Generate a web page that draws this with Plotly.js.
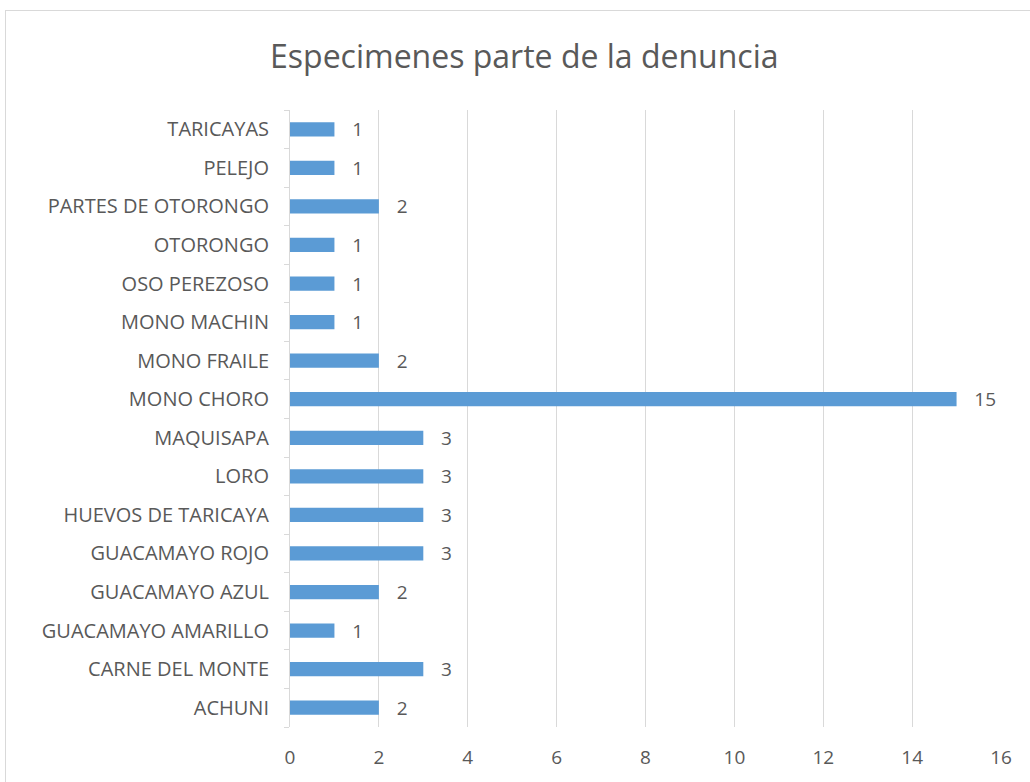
<!DOCTYPE html>
<html>
<head>
<meta charset="utf-8">
<script src="https://cdn.plot.ly/plotly-3.0.1.min.js"></script>
<style>
html,body{margin:0;padding:0;background:#fff;}
#wrap{position:relative;width:1030px;height:782px;overflow:hidden;}
#chart{width:1030px;height:782px;}
#frame{position:absolute;left:5px;top:10px;width:1100px;height:900px;border:1px solid #d9d9d9;pointer-events:none;}
</style>
</head>
<body>
<div id="wrap"><div id="chart"></div><div id="frame"></div></div>
<script>
const categories = ["ACHUNI","CARNE DEL MONTE","GUACAMAYO AMARILLO","GUACAMAYO AZUL","GUACAMAYO ROJO","HUEVOS DE TARICAYA","LORO","MAQUISAPA","MONO CHORO","MONO FRAILE","MONO MACHIN","OSO PEREZOSO","OTORONGO","PARTES DE OTORONGO","PELEJO","TARICAYAS"];
const values = [2,3,1,2,3,3,3,3,15,2,1,1,1,2,1,1];
const xTicks = [0,2,4,6,8,10,12,14,16];
const titleText = "Especimenes parte de la denuncia";

const font = "'Open Sans', sans-serif";
const grey = "#595959";

Plotly.newPlot("chart", [{
  type: "bar",
  orientation: "h",
  y: categories,
  x: values,
  marker: {color: "#5B9BD5"},
  text: values.map(String),
  texttemplate: "   %{text}",
  textposition: "outside",
  constraintext: "none",
  cliponaxis: false,
  textfont: {family: font, size: 19, color: grey},
  hoverinfo: "skip"
}], {
  width: 1030, height: 782,
  margin: {l: 290, r: 29, t: 110, b: 55},
  paper_bgcolor: "#fff", plot_bgcolor: "#fff",
  bargap: 0.63,
  showlegend: false,
  title: {text: titleText, x: 0.509, xanchor: "center", y: 0.927, yanchor: "middle",
          font: {family: font, size: 32, color: grey}},
  xaxis: {range: [0, 16], tickvals: xTicks, showgrid: true, gridcolor: "#d9d9d9", gridwidth: 1,
          zeroline: false, showline: false, ticks: "",
          tickfont: {family: font, size: 19, color: grey}, ticklabelstandoff: 17},
  yaxis: {type: "category", categoryorder: "array", categoryarray: categories,
          showline: true, linecolor: "#d9d9d9", linewidth: 1,
          ticks: "outside", tickson: "boundaries", ticklen: 5, tickcolor: "#d9d9d9",
          showgrid: false, ticklabelstandoff: 16,
          tickfont: {family: font, size: 20, color: grey}}
}, {displayModeBar: false, staticPlot: true});
</script>
</body>
</html>
